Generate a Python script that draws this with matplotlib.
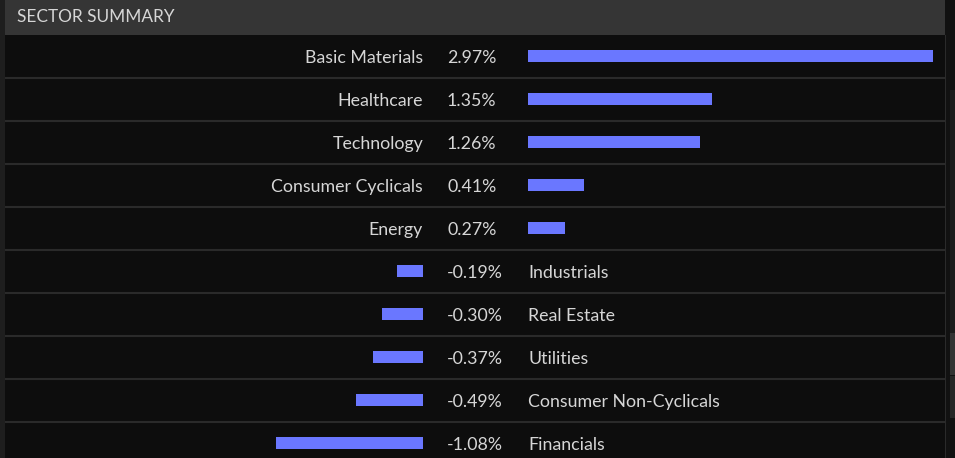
import matplotlib
matplotlib.use("Agg")
import matplotlib.pyplot as plt
from matplotlib.patches import Rectangle

sectors = ["Basic Materials", "Healthcare", "Technology", "Consumer Cyclicals", "Energy",
           "Industrials", "Real Estate", "Utilities", "Consumer Non-Cyclicals", "Financials"]
changes = [2.97, 1.35, 1.26, 0.41, 0.27, -0.19, -0.30, -0.37, -0.49, -1.08]
pct_labels = ["2.97%", "1.35%", "1.26%", "0.41%", "0.27%",
              "-0.19%", "-0.30%", "-0.37%", "-0.49%", "-1.08%"]
title = "SECTOR SUMMARY"

W, H = 955, 458
DPI = 100
BG = "#0d0d0d"
HEADER = "#353535"
GRID = "#2a2a2a"
BAR = "#6a77ff"
TXT = "#d6d6d6"
FONT = ["Lato", "DejaVu Sans"]
FS = 12.8

ROW_TOP = 35
ROW_H = 43
PANEL_L, PANEL_R = 5, 945
POS_X0 = 528
NEG_X1 = 423
PX_PER_PCT = 136.4

fig = plt.figure(figsize=(W / DPI, H / DPI), dpi=DPI)
fig.patch.set_facecolor("#000000")

bg = fig.add_axes([0, 0, 1, 1])
bg.set_xlim(0, W)
bg.set_ylim(H, 0)
bg.axis("off")
bg.add_patch(Rectangle((0, 0), PANEL_L, H, color="#1e1e1e", lw=0))
bg.add_patch(Rectangle((PANEL_L, ROW_TOP), PANEL_R - PANEL_L, H - ROW_TOP, color=BG, lw=0))
bg.add_patch(Rectangle((PANEL_L, 0), PANEL_R - PANEL_L, ROW_TOP, color=HEADER, lw=0))
# right scroll area
bg.add_patch(Rectangle((PANEL_R, 0), W - PANEL_R, H, color="#111111", lw=0))
bg.add_patch(Rectangle((PANEL_R, ROW_TOP), 1.2, H - ROW_TOP, color=GRID, lw=0))
bg.add_patch(Rectangle((950, 90), 5, 243, color="#1c1c1c", lw=0))
bg.add_patch(Rectangle((950, 333), 5, 42, color="#333333", lw=0))
bg.add_patch(Rectangle((950, 376), 5, 42, color="#262626", lw=0))

bg.text(17, 22, title, color=TXT, fontsize=12.4, family=FONT, ha="left", va="baseline")

n = len(sectors)
for i in range(n):
    yc = ROW_TOP + ROW_H * (i + 0.5)
    yb = yc + 6.5
    if i < n - 1:
        bg.plot([PANEL_L, PANEL_R], [ROW_TOP + ROW_H * (i + 1)] * 2, color=GRID, lw=1.5,
                solid_capstyle="butt")
    bg.text(447, yb, pct_labels[i], color=TXT, fontsize=FS, family=FONT, ha="left", va="baseline")
    if changes[i] >= 0:
        bg.text(NEG_X1, yb, sectors[i], color=TXT, fontsize=FS, family=FONT, ha="right", va="baseline")
    else:
        bg.text(POS_X0, yb, sectors[i], color=TXT, fontsize=FS, family=FONT, ha="left", va="baseline")

rows_visible = (H - ROW_TOP) / ROW_H
pos_idx = [i for i, v in enumerate(changes) if v >= 0]
neg_idx = [i for i, v in enumerate(changes) if v < 0]

# positive bars axes
axp = fig.add_axes([POS_X0 / W, 0, (PANEL_R - POS_X0) / W, (H - ROW_TOP) / H])
axp.set_xlim(0, (PANEL_R - POS_X0) / PX_PER_PCT)
axp.set_ylim(-0.5 + rows_visible, -0.5)
axp.barh(pos_idx, [changes[i] for i in pos_idx], height=12 / ROW_H, color=BAR)
axp.axis("off")

# negative bars axes
axn = fig.add_axes([PANEL_L / W, 0, (NEG_X1 - PANEL_L) / W, (H - ROW_TOP) / H])
axn.set_xlim(-(NEG_X1 - PANEL_L) / PX_PER_PCT, 0)
axn.set_ylim(-0.5 + rows_visible, -0.5)
axn.barh(neg_idx, [changes[i] for i in neg_idx], height=12 / ROW_H, color=BAR)
axn.axis("off")

fig.savefig("out.png", dpi=DPI, facecolor=fig.get_facecolor())
